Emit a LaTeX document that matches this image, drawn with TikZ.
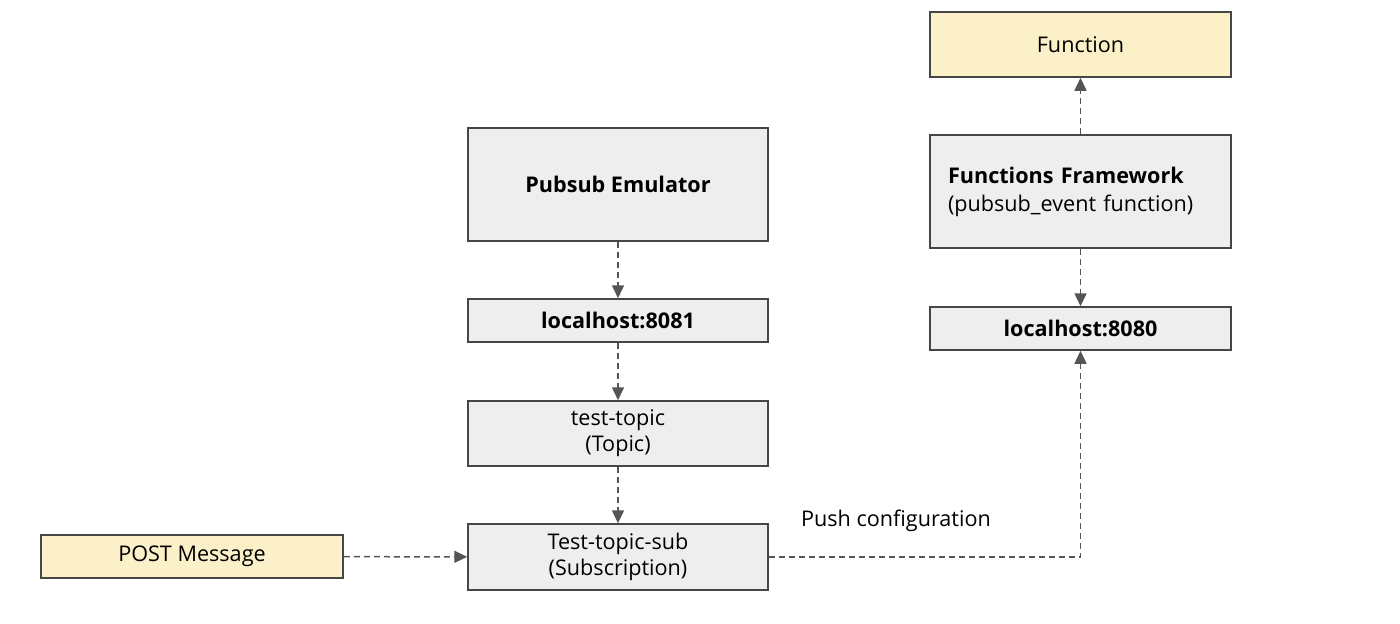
\documentclass[tikz,border=0pt]{standalone}
\usepackage{fontspec}
\setmainfont{Open Sans}
\usetikzlibrary{arrows.meta}
\definecolor{boxgray}{RGB}{238, 238, 238}
\definecolor{cream}{RGB}{252, 240, 200}
\definecolor{edge}{RGB}{70, 70, 70}
\definecolor{wire}{RGB}{85, 85, 85}

\begin{document}
\begin{tikzpicture}[x=0.5pt,y=-0.5pt,
  box/.style={draw=edge,line width=0.75pt,fill=boxgray,minimum width=150pt,inner sep=0pt,align=center,font=\fontsize{10.8}{13}\selectfont},
  note/.style={box,fill=cream},
  link/.style={draw=wire,line width=0.75pt,dash pattern=on 3pt off 2pt,-{Triangle[width=6pt,length=6.5pt]}}]
\useasboundingbox (0,0) rectangle (1400,623);
% right column
\node[note,minimum width=150.5pt,minimum height=32.5pt] (fn) at (1080.5,44.5) {Function};
\node[box,minimum height=56.5pt,text width=132.5pt,inner xsep=9pt,align=left,font=\fontsize{10.8}{14}\selectfont] (ff) at (1080.5,191.5) {\textbf{Functions Framework}\\(pubsub\_event function)};
\node[box,minimum width=150.5pt,minimum height=21.5pt] (lh80) at (1080.5,328.5) {\textbf{localhost:8080}};
% left column
\node[box,minimum height=56.5pt] (emu) at (618,184.5) {\textbf{Pubsub Emulator}};
\node[box,minimum height=21.5pt] (lh81) at (618,320.5) {\textbf{localhost:8081}};
\node[box,minimum height=32.5pt] (topic) at (618,433.5) {test-topic\\(Topic)};
\node[box,minimum height=33pt] (sub) at (618,557) {Test-topic-sub\\(Subscription)};
\node[note,minimum width=151pt,minimum height=21.5pt] (post) at (192,556.5) {POST Message};
\node[font=\fontsize{10.8}{13}\selectfont] (push) at (896,521) {Push configuration};
\coordinate (bend) at (lh80.south |- sub.east);
% connectors
\draw[link] (emu) -- (lh81);
\draw[link] (lh81) -- (topic);
\draw[link] (topic) -- (sub);
\draw[link] (post) -- (sub);
\draw[link] (sub.east) -- (bend) -- (lh80.south);
\draw[link] (ff) -- (lh80);
\draw[link] (ff) -- (fn);
\end{tikzpicture}
\end{document}
